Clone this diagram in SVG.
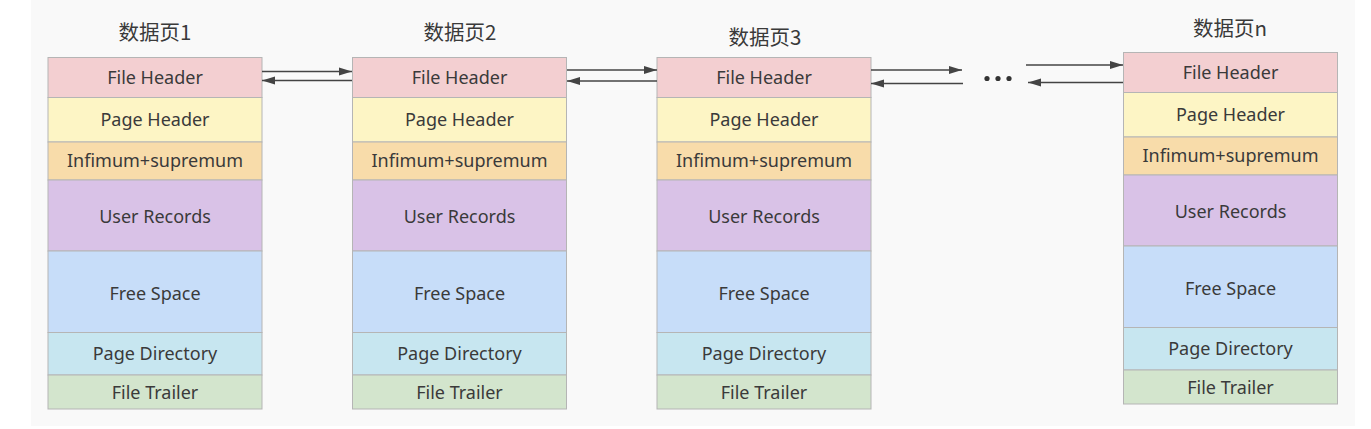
<svg xmlns="http://www.w3.org/2000/svg" width="1371" height="429" viewBox="0 0 1371 429">
<style>
.bg{fill:#f9f9f9}
.r{stroke:#b5b5b5;stroke-width:1}
.fh{fill:#f3cfd1}.ph{fill:#fdf5c5}.im{fill:#f8dcaa}.ur{fill:#d9c2e7}.fs{fill:#c7ddf9}.pd{fill:#c7e6f0}.ft{fill:#d3e5cd}
.t{font-family:"Noto Sans","Open Sans","Liberation Sans",sans-serif;font-size:18px;fill:#3a3a3a;text-anchor:middle}
.title{font-family:"Noto Sans CJK SC","Noto Sans",sans-serif;font-size:20.5px;fill:#3a3a3a;text-anchor:middle}
.a{stroke:#444;stroke-width:1.6;fill:none}
</style>
<defs>
<marker id="ah" markerWidth="14" markerHeight="10" refX="13" refY="5" orient="auto" markerUnits="userSpaceOnUse">
<polygon points="0,1 13,5 0,9" fill="#444"/>
</marker>
<g id="pageTpl">
<rect class="r fh" x="0" y="0" width="214" height="40"/>
<rect class="r ph" x="0" y="40" width="214" height="44.5"/>
<rect class="r im" x="0" y="84.5" width="214" height="38"/>
<rect class="r ur" x="0" y="122.5" width="214" height="71"/>
<rect class="r fs" x="0" y="193.5" width="214" height="81.5"/>
<rect class="r pd" x="0" y="275" width="214" height="42.5"/>
<rect class="r ft" x="0" y="317.5" width="214" height="34"/>
<text class="t" x="107" y="26">File Header</text>
<text class="t" x="107" y="68">Page Header</text>
<text class="t" x="107" y="109.5">Infimum+supremum</text>
<text class="t" x="107" y="165">User Records</text>
<text class="t" x="107" y="242">Free Space</text>
<text class="t" x="107" y="302.5">Page Directory</text>
<text class="t" x="107" y="341">File Trailer</text>
</g>
</defs>
<rect class="bg" x="31" y="0" width="1324" height="426"/>
<g id="page1">
<text class="title" x="155" y="40">数据页1</text>
<use href="#pageTpl" x="48" y="57.5"/>
</g>
<g id="page2">
<text class="title" x="460" y="40">数据页2</text>
<use href="#pageTpl" x="352.5" y="57.5"/>
</g>
<g id="page3">
<text class="title" x="765" y="45">数据页3</text>
<use href="#pageTpl" x="657" y="57.5"/>
</g>
<g id="pageN">
<text class="title" x="1230" y="36">数据页n</text>
<use href="#pageTpl" x="1123.5" y="52.5"/>
</g>
<g id="ellipsis">
<circle cx="987" cy="78.5" r="2.6" fill="#333"/>
<circle cx="998" cy="78.5" r="2.6" fill="#333"/>
<circle cx="1009" cy="78.5" r="2.6" fill="#333"/>
</g>
<g id="connectors">
<line class="a" x1="262" y1="71.5" x2="352" y2="71.5" marker-end="url(#ah)"/>
<line class="a" x1="352" y1="80.5" x2="262" y2="80.5" marker-end="url(#ah)"/>
<line class="a" x1="567" y1="70" x2="657" y2="70" marker-end="url(#ah)"/>
<line class="a" x1="657" y1="81" x2="567" y2="81" marker-end="url(#ah)"/>
<line class="a" x1="871" y1="70" x2="962" y2="70" marker-end="url(#ah)"/>
<line class="a" x1="963" y1="83.5" x2="871" y2="83.5" marker-end="url(#ah)"/>
<line class="a" x1="1026" y1="65" x2="1123" y2="65" marker-end="url(#ah)"/>
<line class="a" x1="1123" y1="82.5" x2="1028" y2="82.5" marker-end="url(#ah)"/>
</g>
</svg>
